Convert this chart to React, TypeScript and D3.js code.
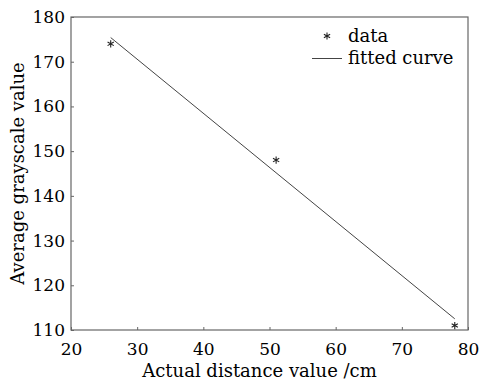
import { useRef, useEffect } from 'react';
import * as d3 from 'd3';

// measured points
const distanceCm = [26, 51, 78];
const grayValue = [174, 148, 111];

// fitted line endpoints
const fitX = [26, 78];
const fitY = [175.4, 112.5];

const xTicks = [20, 30, 40, 50, 60, 70, 80];
const yTicks = [110, 120, 130, 140, 150, 160, 170, 180];

const W = 479;
const H = 384;
const FONT = '"DejaVu Serif", "Liberation Serif", serif';
const FS = '18px';
const TICK_FS = '17px';

export default function App() {
  const svgRef = useRef<SVGSVGElement>(null);

  useEffect(() => {
    document.body.style.margin = '0';
    if (!svgRef.current) return;
    const svg = d3.select(svgRef.current);
    svg.selectAll('*').remove();

    const margin = { top: 17, right: 11, bottom: 54, left: 71 };
    const innerW = W - margin.left - margin.right;
    const innerH = H - margin.top - margin.bottom;

    svg.append('rect').attr('width', W).attr('height', H).attr('fill', '#fff');

    const g = svg.append('g').attr('transform', `translate(${margin.left},${margin.top})`);

    const x = d3.scaleLinear().domain([20, 80]).range([0, innerW]);
    const y = d3.scaleLinear().domain([110, 180]).range([innerH, 0]);

    // frame
    g.append('rect')
      .attr('width', innerW)
      .attr('height', innerH)
      .attr('fill', 'none')
      .attr('stroke', '#666')
      .attr('stroke-width', 1.2);

    // x axis
    g.append('g')
      .attr('transform', `translate(0,${innerH})`)
      .call(d3.axisBottom(x).tickValues(xTicks).tickSizeInner(-3).tickSizeOuter(0).tickPadding(13))
      .call((a) => a.select('.domain').remove())
      .call((a) => a.selectAll('.tick line').attr('stroke', '#666'))
      .call((a) =>
        a.selectAll('.tick text').attr('fill', '#000').attr('font-size', TICK_FS).attr('font-family', FONT)
      );

    // y axis
    g.append('g')
      .call(d3.axisLeft(y).tickValues(yTicks).tickSizeInner(-3).tickSizeOuter(0).tickPadding(6))
      .call((a) => a.select('.domain').remove())
      .call((a) => a.selectAll('.tick line').attr('stroke', '#666'))
      .call((a) =>
        a.selectAll('.tick text').attr('fill', '#000').attr('font-size', TICK_FS).attr('font-family', FONT)
      );

    // fitted curve
    const line = d3
      .line<number>()
      .x((_, i) => x(fitX[i]))
      .y((d) => y(d));
    g.append('path')
      .attr('d', line(fitY) || '')
      .attr('fill', 'none')
      .attr('stroke', '#444')
      .attr('stroke-width', 1);

    // data markers
    const star = d3.symbol().type(d3.symbolAsterisk).size(36);
    g.selectAll('.pt')
      .data(distanceCm)
      .enter()
      .append('path')
      .attr('class', 'pt')
      .attr('transform', (d, i) => `translate(${x(d)},${y(grayValue[i])})`)
      .attr('d', star() || '')
      .attr('fill', 'none')
      .attr('stroke', '#222')
      .attr('stroke-width', 1.1);

    // legend
    const lg = svg.append('g');
    lg.append('path')
      .attr('transform', 'translate(327,36)')
      .attr('d', star() || '')
      .attr('fill', 'none')
      .attr('stroke', '#222')
      .attr('stroke-width', 1.1);
    lg.append('text')
      .attr('x', 348)
      .attr('y', 42)
      .attr('font-size', FS)
      .attr('font-family', FONT)
      .attr('fill', '#000')
      .text('data');
    lg.append('line')
      .attr('x1', 312)
      .attr('x2', 342)
      .attr('y1', 58.5)
      .attr('y2', 58.5)
      .attr('stroke', '#444');
    lg.append('text')
      .attr('x', 348)
      .attr('y', 64)
      .attr('font-size', FS)
      .attr('font-family', FONT)
      .attr('fill', '#000')
      .text('fitted curve');

    // axis titles
    svg.append('text')
      .attr('x', margin.left + innerW / 2 - 10)
      .attr('y', 377)
      .attr('text-anchor', 'middle')
      .attr('font-size', FS)
      .attr('font-family', FONT)
      .attr('fill', '#000')
      .text('Actual distance value /cm');

    svg.append('text')
      .attr('transform', `translate(24,${margin.top + innerH / 2}) rotate(-90)`)
      .attr('text-anchor', 'middle')
      .attr('font-size', FS)
      .attr('font-family', FONT)
      .attr('fill', '#000')
      .text('Average grayscale value');
  }, []);

  return <svg ref={svgRef} width={W} height={H} style={{ display: 'block' }} />;
}
